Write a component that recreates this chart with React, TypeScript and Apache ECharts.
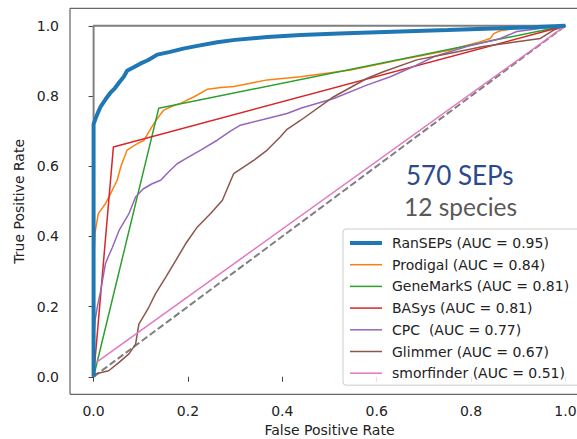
import React, { useEffect, useRef } from "react";
import * as echarts from "echarts";

const seriesNames = [
  "RanSEPs (AUC = 0.95)",
  "Prodigal (AUC = 0.84)",
  "GeneMarkS (AUC = 0.81)",
  "BASys (AUC = 0.81)",
  "CPC  (AUC = 0.77)",
  "Glimmer (AUC = 0.67)",
  "smorfinder (AUC = 0.51)",
];
const seriesColors = ["#1f77b4", "#ff7f0e", "#2ca02c", "#d62728", "#9467bd", "#8c564b", "#e377c2"];
const seriesWidths = [4, 1.5, 1.5, 1.5, 1.5, 1.5, 1.5];

const ransepsROC = [
  [0, 0], [0, 0.72], [0.004, 0.735], [0.01, 0.755], [0.015, 0.77], [0.025, 0.79], [0.036, 0.81],
  [0.045, 0.822], [0.055, 0.84], [0.064, 0.855], [0.071, 0.872], [0.085, 0.882], [0.1, 0.893],
  [0.115, 0.902], [0.135, 0.918], [0.16, 0.925], [0.19, 0.935], [0.22, 0.943], [0.262, 0.953],
  [0.3, 0.96], [0.368, 0.968], [0.439, 0.974], [0.52, 0.978], [0.65, 0.984], [0.75, 0.988],
  [0.862, 0.993], [0.93, 0.996], [1, 1],
];
const prodigalROC = [
  [0, 0], [0, 0.33], [0.003, 0.41], [0.01, 0.465], [0.025, 0.493], [0.036, 0.522], [0.05, 0.56],
  [0.058, 0.6], [0.071, 0.646], [0.09, 0.662], [0.107, 0.674], [0.118, 0.7], [0.128, 0.722],
  [0.14, 0.745], [0.149, 0.76], [0.165, 0.77], [0.184, 0.779], [0.213, 0.798], [0.241, 0.819],
  [0.27, 0.824], [0.297, 0.827], [0.33, 0.836], [0.368, 0.846], [0.439, 0.855], [0.545, 0.874],
  [0.65, 0.903], [0.756, 0.931], [0.82, 0.955], [0.841, 0.964], [0.848, 0.978], [0.862, 0.986],
  [0.919, 0.998], [1, 1],
];
const genemarksROC = [[0, 0], [0.138, 0.765], [1, 1]];
const basysROC = [[0, 0], [0.042, 0.655], [1, 1]];
const cpcROC = [
  [0, 0], [0, 0.1], [0.003, 0.16], [0.008, 0.2], [0.015, 0.245], [0.025, 0.322], [0.032, 0.345],
  [0.04, 0.369], [0.054, 0.417], [0.064, 0.44], [0.075, 0.465], [0.089, 0.512], [0.105, 0.535],
  [0.124, 0.55], [0.142, 0.56], [0.16, 0.585], [0.177, 0.607], [0.2, 0.625], [0.227, 0.646],
  [0.262, 0.674], [0.29, 0.7], [0.311, 0.717], [0.368, 0.736], [0.41, 0.75], [0.439, 0.765],
  [0.509, 0.793], [0.579, 0.831], [0.629, 0.855], [0.678, 0.884], [0.721, 0.912], [0.791, 0.941],
  [0.862, 0.964], [0.897, 0.984], [0.95, 0.993], [1, 1],
];
const glimmerROC = [
  [0, 0], [0.003, 0.008], [0.032, 0.017], [0.054, 0.041], [0.075, 0.065], [0.089, 0.093],
  [0.096, 0.15], [0.117, 0.198], [0.131, 0.236], [0.153, 0.284], [0.174, 0.331], [0.195, 0.379],
  [0.22, 0.427], [0.248, 0.465], [0.273, 0.503], [0.297, 0.579], [0.34, 0.617], [0.368, 0.646],
  [0.396, 0.684], [0.41, 0.705], [0.439, 0.731], [0.509, 0.798], [0.579, 0.85], [0.614, 0.869],
  [0.685, 0.903], [0.756, 0.922], [0.826, 0.941], [0.897, 0.955], [0.947, 0.964], [0.975, 0.988],
  [1, 1],
];
const smorfinderROC = [[0, 0], [0, 0.035], [1, 1]];
const perfectLine = [[0, 0], [0, 1], [1, 1]];
const chanceLine = [[0, 0], [1, 1]];

const tickValues = [0, 0.2, 0.4, 0.6, 0.8, 1.0];
const annotationTitle = "570 SEPs";
const annotationSub = "12 species";

const allROC = [ransepsROC, prodigalROC, genemarksROC, basysROC, cpcROC, glimmerROC, smorfinderROC];

export default function App() {
  const ref = useRef<HTMLDivElement>(null);
  useEffect(() => {
    if (!ref.current) return;
    const chart = echarts.init(ref.current, null, { renderer: "svg" });
    const axisCommon = {
      type: "value",
      min: -0.05,
      max: 1.05,
      splitLine: { show: false },
      axisLine: { show: false },
      axisTick: {
        show: true,
        length: 5,
        customValues: tickValues,
        lineStyle: { color: "#444", width: 1 },
      },
      nameLocation: "middle",
      nameTextStyle: { fontFamily: "DejaVu Sans", fontSize: 14, color: "#222" },
    };
    const option = {
      animation: false,
      backgroundColor: "#ffffff",
      grid: {
        left: 70,
        top: 8.3,
        width: 519,
        height: 386,
        containLabel: false,
        outerBoundsMode: "none",
        show: true,
        borderColor: "#444",
        borderWidth: 1,
        backgroundColor: "transparent",
      },
      xAxis: {
        ...axisCommon,
        name: "False Positive Rate",
        nameGap: 29,
        axisLabel: {
          customValues: tickValues,
          margin: 10,
          fontFamily: "DejaVu Sans",
          fontSize: 14,
          color: "#222",
          formatter: (v: number) => v.toFixed(1),
        },
      },
      yAxis: {
        ...axisCommon,
        name: "True Positive Rate",
        nameGap: 35,
        nameRotate: 90,
        axisLabel: {
          customValues: tickValues,
          margin: 11,
          fontFamily: "DejaVu Sans",
          fontSize: 14,
          color: "#222",
          formatter: (v: number) => v.toFixed(1),
        },
      },
      legend: {
        orient: "vertical",
        left: 343,
        top: 229,
        padding: [7, 12, 5, 5],
        itemWidth: 32,
        itemHeight: 14,
        itemGap: 7.7,
        itemStyle: { opacity: 0 },
        backgroundColor: "rgba(255,255,255,0.85)",
        borderColor: "#cccccc",
        borderWidth: 1,
        borderRadius: 3,
        textStyle: { fontFamily: "DejaVu Sans", fontSize: 14, color: "#222", padding: [0, 0, 0, 5] },
        data: seriesNames.map((n, i) => ({
          name: n,
          lineStyle: { width: seriesWidths[i], color: seriesColors[i] },
        })),
      },
      graphic: [
        {
          type: "text",
          left: 406,
          top: 162,
          style: {
            text: annotationTitle,
            fontFamily: "Lato",
            fontSize: 26,
            fill: "#2c4a8a",
          },
          z: 10,
        },
        {
          type: "text",
          left: 404,
          top: 194,
          style: {
            text: annotationSub,
            fontFamily: "Lato",
            fontSize: 24.5,
            fill: "#595959",
          },
          z: 10,
        },
      ],
      series: [
        {
          type: "line",
          name: "perfect",
          data: perfectLine,
          symbol: "none",
          lineStyle: { color: "#7f7f7f", width: 2 },
          silent: true,
          z: 1,
        },
        {
          type: "line",
          name: "chance",
          data: chanceLine,
          symbol: "none",
          lineStyle: { color: "#7f7f7f", width: 2, type: [7, 3] },
          silent: true,
          z: 1,
        },
        ...seriesNames.map((n, i) => ({
          type: "line",
          name: n,
          data: allROC[i],
          symbol: "none",
          color: seriesColors[i],
          lineStyle: { color: seriesColors[i], width: seriesWidths[i] },
          z: 2 + (i === 0 ? 1 : 0),
        })),
      ],
    };
    chart.setOption(option as any);
    return () => chart.dispose();
  }, []);
  return (
    <div
      ref={ref}
      style={{ position: "fixed", left: 0, top: 0, width: 577, height: 439 }}
    />
  );
}
